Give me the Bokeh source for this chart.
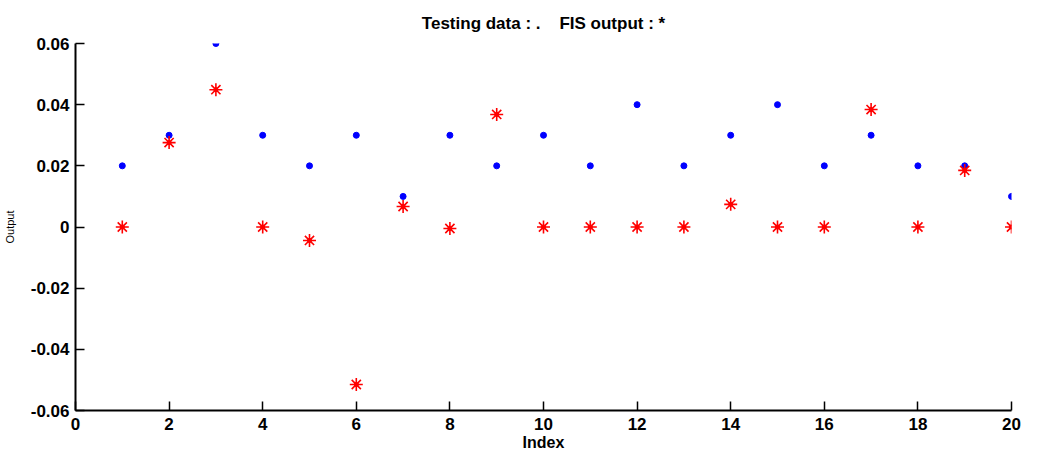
from bokeh.plotting import figure
from bokeh.models import Range1d, FixedTicker, CustomJSTickFormatter, ColumnDataSource
from bokeh.embed import file_html
from bokeh.resources import INLINE

index = list(range(1, 21))
testing_data = [0.02, 0.03, 0.06, 0.03, 0.02, 0.03, 0.01, 0.03, 0.02, 0.03,
                0.02, 0.04, 0.02, 0.03, 0.04, 0.02, 0.03, 0.02, 0.02, 0.01]
fis_output = [0.0, 0.0276, 0.0449, 0.0, -0.0044, -0.0515, 0.0067, -0.0005, 0.0368, 0.0,
              0.0, 0.0, 0.0, 0.0074, 0.0, 0.0, 0.0384, 0.0, 0.0185, 0.0]
x_ticks = [0, 2, 4, 6, 8, 10, 12, 14, 16, 18, 20]
y_ticks = [-0.06, -0.04, -0.02, 0.0, 0.02, 0.04, 0.06]

src = ColumnDataSource(dict(x=index, t=testing_data, f=fis_output))

p = figure(output_backend="svg", toolbar_location=None,
           x_range=Range1d(0, 20), y_range=Range1d(-0.06, 0.06),
           frame_width=936, frame_height=367,
           min_border_left=75, min_border_right=21, min_border_top=43, min_border_bottom=10,
           title="Testing data : .\u00a0\u00a0\u00a0 FIS output : *")
p.outline_line_color = None
p.xgrid.visible = False
p.ygrid.visible = False

p.title.align = "center"
p.title.text_font = "Liberation Sans"
p.title.text_font_size = "17px"
p.title.text_font_style = "bold"
p.title.text_color = "black"
p.title.standoff = 21

for ax in (p.xaxis[0], p.yaxis[0]):
    ax.axis_line_width = 2
    ax.axis_line_color = "black"
    ax.major_tick_in = 9
    ax.major_tick_out = 0
    ax.major_tick_line_color = "black"
    ax.major_tick_line_width = 1.5
    ax.minor_tick_line_color = None
    ax.major_label_text_font = "Liberation Sans"
    ax.major_label_text_font_size = "17px"
    ax.major_label_text_font_style = "bold"
    ax.major_label_text_color = "black"
    ax.axis_label_text_font = "Liberation Sans"
    ax.axis_label_text_font_style = "bold"
    ax.axis_label_text_color = "black"

p.xaxis.ticker = FixedTicker(ticks=x_ticks)
p.yaxis.ticker = FixedTicker(ticks=y_ticks)
p.yaxis.formatter = CustomJSTickFormatter(code="return Math.abs(tick) < 1e-9 ? '0' : tick.toFixed(2);")
p.xaxis.major_label_standoff = 7
p.yaxis.major_label_standoff = 6
p.xaxis.axis_label = "Index"
p.xaxis.axis_label_text_font_size = "16px"
p.xaxis.axis_label_standoff = 1
p.yaxis.axis_label = "Output"
p.yaxis.axis_label_text_font_size = "11px"
p.yaxis.axis_label_text_font_style = "normal"
p.yaxis.axis_label_standoff = 12

p.scatter("x", "t", source=src, marker="circle", size=6, color="blue", line_color="blue")
p.scatter("x", "f", source=src, marker="asterisk", size=13, line_color="red", line_width=1.6)
p.scatter("x", "f", source=src, marker="circle", size=4, color="red", line_color="red")

open("out.html", "w").write(file_html(p, INLINE))
